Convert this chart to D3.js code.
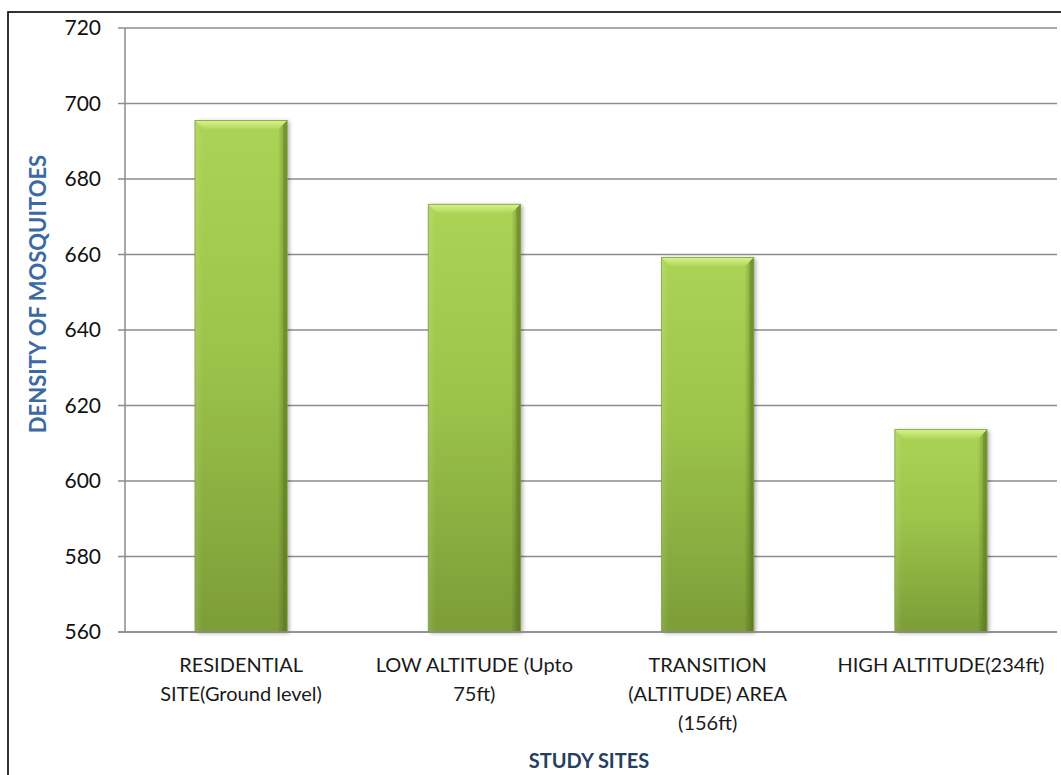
<!DOCTYPE html>
<html><head><meta charset="utf-8">
<script src="https://cdn.jsdelivr.net/npm/d3@7/dist/d3.min.js"></script>
<style>body{margin:0;background:#fff;} svg{display:block;}</style>
</head><body>
<svg id="c" width="1061" height="775"></svg>
<script>
const categories = ["RESIDENTIAL\nSITE(Ground level)", "LOW ALTITUDE (Upto\n75ft)", "TRANSITION\n(ALTITUDE) AREA\n(156ft)", "HIGH ALTITUDE(234ft)"];
const values = [695.5, 673.3, 659.2, 613.6];
const yTicks = [560, 580, 600, 620, 640, 660, 680, 700, 720];
const yTitle = "DENSITY OF MOSQUITOES";
const xTitle = "STUDY SITES";

const svg = d3.select("#c");
const m = {left:125, right:1057, top:28, bottom:632};
const font = "Lato, 'Open Sans', sans-serif";

// frame
svg.append("rect").attr("x",8).attr("y",12).attr("width",1100).attr("height",800)
  .attr("fill","none").attr("stroke","#000").attr("stroke-width",1.6);

const x = d3.scaleBand().domain(categories).range([m.left,m.right]).paddingInner(0.605).paddingOuter(0.3);
const y = d3.scaleLinear().domain([560,720]).range([m.bottom,m.top]);

const defs = svg.append("defs");
const gv = defs.append("linearGradient").attr("id","gv").attr("x1",0).attr("y1",0).attr("x2",0).attr("y2",1);
gv.append("stop").attr("offset","0%").attr("stop-color","#abd455");
gv.append("stop").attr("offset","45%").attr("stop-color","#9cc44a");
gv.append("stop").attr("offset","100%").attr("stop-color","#7c9d37");
const gh = defs.append("linearGradient").attr("id","gh").attr("x1",0).attr("y1",0).attr("x2",1).attr("y2",0);
gh.append("stop").attr("offset","0%").attr("stop-color","#fff").attr("stop-opacity",0.12);
gh.append("stop").attr("offset","8%").attr("stop-color","#fff").attr("stop-opacity",0.0);
gh.append("stop").attr("offset","90%").attr("stop-color","#000").attr("stop-opacity",0.0);
gh.append("stop").attr("offset","100%").attr("stop-color","#2a4000").attr("stop-opacity",0.35);
const gt = defs.append("linearGradient").attr("id","gt").attr("x1",0).attr("y1",0).attr("x2",0).attr("y2",1);
gt.append("stop").attr("offset","0%").attr("stop-color","#d8f58a");
gt.append("stop").attr("offset","100%").attr("stop-color","#aed558");
const sh = defs.append("filter").attr("id","sh").attr("x","-20%").attr("y","-5%").attr("width","140%").attr("height","110%");
sh.append("feGaussianBlur").attr("in","SourceAlpha").attr("stdDeviation",2).attr("result","b");
sh.append("feOffset").attr("in","b").attr("dx",2).attr("dy",1).attr("result","o");
sh.append("feComponentTransfer").attr("in","o").attr("result","o2").append("feFuncA").attr("type","linear").attr("slope",0.35);
const mg = sh.append("feMerge"); mg.append("feMergeNode").attr("in","o2"); mg.append("feMergeNode").attr("in","SourceGraphic");

// grid
svg.append("g").selectAll("line").data(yTicks).join("line")
  .attr("x1",m.left-7).attr("x2",m.right).attr("y1",d=>y(d)).attr("y2",d=>y(d))
  .attr("stroke","#8c8c8c").attr("stroke-width",1.5);
// y axis
svg.append("line").attr("x1",m.left).attr("x2",m.left).attr("y1",m.top).attr("y2",m.bottom)
  .attr("stroke","#8c8c8c").attr("stroke-width",1.5);

// bars
const bw = x.bandwidth();
const bars = svg.append("g").selectAll("g").data(categories).join("g");
bars.append("rect").attr("x",d=>x(d)).attr("y",(d,i)=>y(values[i])).attr("width",bw)
  .attr("height",(d,i)=>y(560)-y(values[i])).attr("fill","url(#gv)").attr("filter","url(#sh)");
bars.append("rect").attr("x",d=>x(d)).attr("y",(d,i)=>y(values[i])).attr("width",bw)
  .attr("height",(d,i)=>y(560)-y(values[i])).attr("fill","url(#gh)");
const bev = 9;
bars.append("polygon").attr("points",(d,i)=>{
  const x0=x(d), x1=x(d)+bw, t=y(values[i]);
  return [[x0,t],[x1,t],[x1-bev,t+bev],[x0+bev,t+bev]].map(p=>p.join(",")).join(" ");
}).attr("fill","url(#gt)");
bars.append("polygon").attr("points",(d,i)=>{
  const x1=x(d)+bw, t=y(values[i]), b=y(560);
  return [[x1,t],[x1,b],[x1-4,b],[x1-4,t+4]].map(p=>p.join(",")).join(" ");
}).attr("fill","#5f7f22").attr("opacity",0.45);
bars.append("rect").attr("x",d=>x(d)).attr("y",(d,i)=>y(values[i])).attr("width",bw)
  .attr("height",(d,i)=>y(560)-y(values[i])).attr("fill","none").attr("stroke","#7f9f3c").attr("stroke-width",0.8);

// x axis
svg.append("line").attr("x1",m.left-7).attr("x2",m.right).attr("y1",m.bottom).attr("y2",m.bottom)
  .attr("stroke","#8c8c8c").attr("stroke-width",1.5);

// y tick labels
svg.append("g").selectAll("text").data(yTicks).join("text")
  .attr("x",m.left-24).attr("y",d=>y(d)).attr("dy","0.35em").attr("text-anchor","end")
  .attr("font-family",font).attr("font-size",21).attr("fill","#111").text(d=>d);

// category labels
const cl = svg.append("g").selectAll("text").data(categories).join("text")
  .attr("text-anchor","middle").attr("font-family",font).attr("font-size",20).attr("fill","#1a1a1a");
cl.each(function(d){
  const t=d3.select(this);
  d.split("\n").forEach((line,k)=>{
    t.append("tspan").attr("x",x(d)+bw/2).attr("y",672+k*29).text(line);
  });
});

// titles
svg.append("text").attr("transform",`translate(46,${(155+433)/2}) rotate(-90)`)
  .attr("text-anchor","middle").attr("font-family",font).attr("font-weight","bold")
  .attr("font-size",22).attr("fill","#3d69a3").text(yTitle);
svg.append("text").attr("x",(m.left+m.right)/2 - 2).attr("y",768).attr("text-anchor","middle")
  .attr("font-family",font).attr("font-weight","bold").attr("font-size",20).attr("fill","#243f62").text(xTitle);
</script>
</body></html>
